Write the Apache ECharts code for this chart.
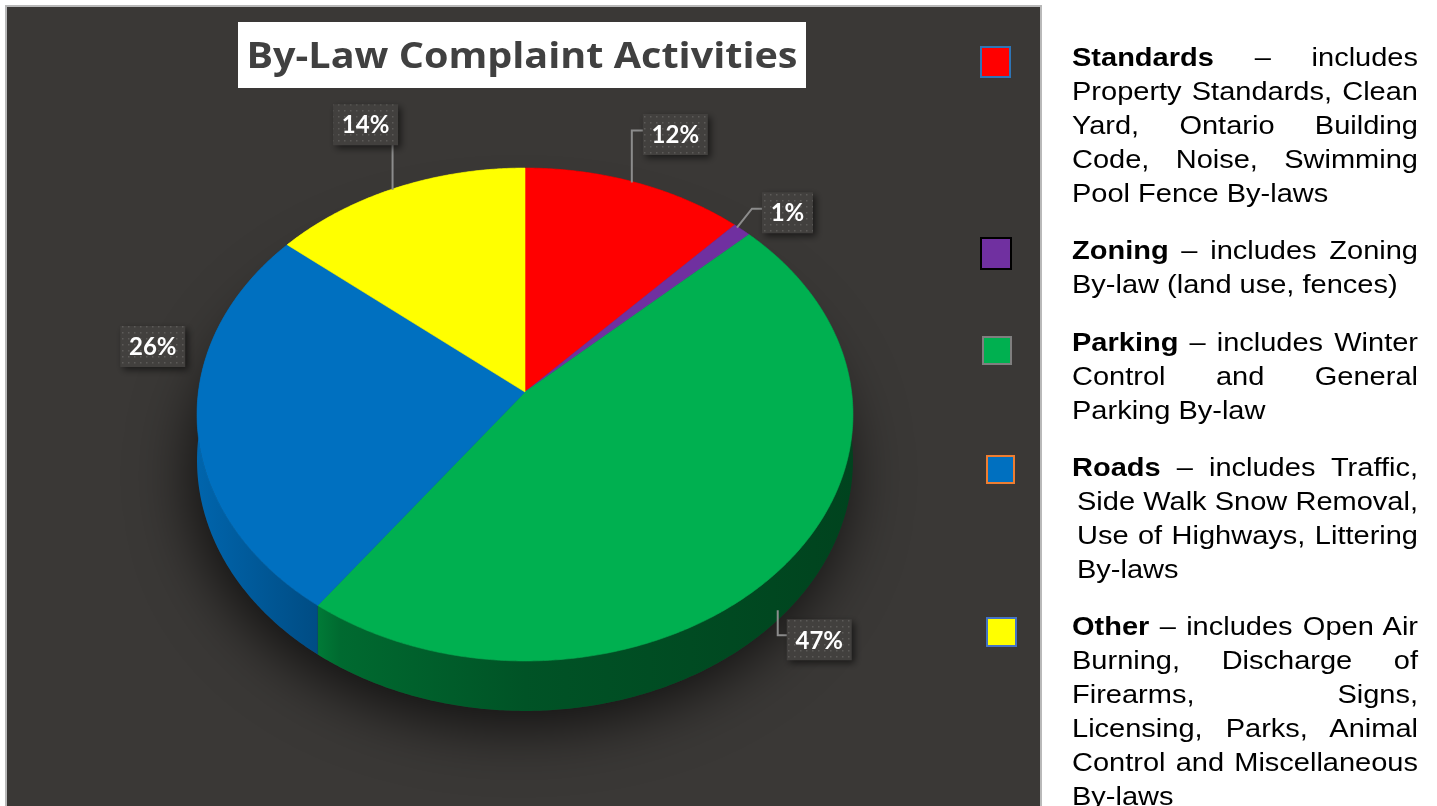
<!DOCTYPE html>
<html>
<head>
<meta charset="utf-8">
<title>By-Law Complaint Activities</title>
<script src="https://cdn.jsdelivr.net/npm/echarts@6/dist/echarts.min.js"></script>
<style>
  html, body { margin: 0; padding: 0; background: #fff; overflow: hidden; }
  #chart { position: absolute; left: 0; top: 0; width: 1437px; height: 806px; }
  .note {
    position: absolute;
    left: 1072px;
    font-family: "Liberation Sans", Arial, sans-serif;
    font-size: 25px;
    line-height: 34px;
    color: #000;
    transform-origin: 0 0;
  }
  .note div { white-space: nowrap; }
  .note .fill { text-align: justify; text-align-last: justify; }
  .note b { font-weight: bold; }
</style>
</head>
<body>
<div id="chart"></div>
<div id="notes"></div>
<script>
const titleText = "By-Law Complaint Activities";
const categories = ["Standards", "Zoning", "Parking", "Roads", "Other"];
const shares = [12, 1, 47, 26, 14];
const sliceColors = ["#ff0000", "#7030a0", "#00b050", "#0070c0", "#ffff00"];
// description lines next to each legend marker (first line follows the bold name)
const legendLines = [
  ["– includes", "Property Standards, Clean", "Yard, Ontario Building", "Code, Noise, Swimming", "Pool Fence By-laws"],
  ["– includes Zoning", "By-law (land use, fences)"],
  ["– includes Winter", "Control and General", "Parking By-law"],
  ["– includes Traffic,", "Side Walk Snow Removal,", "Use of Highways, Littering", "By-laws"],
  ["– includes Open Air", "Burning, Discharge of", "Firearms, Signs,", "Licensing, Parks, Animal", "Control and Miscellaneous", "By-laws"]
];

// layout only (not data)
const noteTops = [40, 233, 325, 450, 609];
const noteIndent = [0, 0, 0, 5, 0];
const noteWidth = 346;
const noteStretch = 1.16;
const markerBoxes = [
  { x: 981, y: 47, w: 29, h: 30, stroke: "#2e75b6" },
  { x: 981, y: 238, w: 30, h: 31, stroke: "#000000" },
  { x: 983, y: 337, w: 28, h: 27, stroke: "#7f7f7f" },
  { x: 987, y: 456, w: 27, h: 27, stroke: "#ed7d31" },
  { x: 987, y: 618, w: 29, h: 28, stroke: "#4472c4" }
];
// label box offset from the rim anchor, plus leader points relative to anchor
const labelLayout = [
  { dx: 39.5, dy: -48, bottom: false, leader: [[-4, 0], [-4, -52], [8, -52]] },
  { dx: 45.5, dy: -17, bottom: false, leader: [[-5, -2], [10, -21], [21, -21]] },
  { dx: 33.5, dy: 27.5, bottom: true, leader: [[-8, -2], [-8, 23], [2, 23]] },
  { dx: -44.5, dy: -76.5, bottom: false, leader: null },
  { dx: -31, dy: -63, bottom: false, leader: [[-4, 2], [-4, -43]] }
];

// perspective pie geometry
const PIE = { cx: 525, cy: 392, a: 326.6, b: 244.4, k: 0.0913, h: 45.4 };

function rim(theta, down) {
  const u = Math.sin(theta), v = -Math.cos(theta);
  const w = 1 - PIE.k * v;
  return [PIE.cx + PIE.a * u / w, PIE.cy + (PIE.b * v + (down ? PIE.h : 0)) / w];
}

function shade(hex, f) {
  const n = parseInt(hex.slice(1), 16);
  const r = Math.round(((n >> 16) & 255) * f);
  const g = Math.round(((n >> 8) & 255) * f);
  const b = Math.round((n & 255) * f);
  return "rgb(" + r + "," + g + "," + b + ")";
}

const total = shares.reduce((s, v) => s + v, 0);
const starts = [];
shares.reduce((acc, v, i) => { starts[i] = acc; return acc + v; }, 0);

// dotted fill used by the data label boxes
const dots = document.createElement("canvas");
dots.width = 6; dots.height = 6;
(function () {
  const c = dots.getContext("2d");
  c.fillStyle = "#42403e";
  c.fillRect(0, 0, 6, 6);
  c.fillStyle = "#5d5b59";
  c.fillRect(2, 2, 1.5, 1.5);
})();

const labelFont = "bold 24px Lato";
const titleFont = "bold 35px 'Open Sans'";
const measureCtx = document.createElement("canvas").getContext("2d");
function textWidth(text, font) {
  measureCtx.font = font;
  return measureCtx.measureText(text).width;
}

function arc(t0, t1, down) {
  const pts = [];
  const steps = Math.max(2, Math.ceil((t1 - t0) / (Math.PI / 180) * 2));
  for (let s = 0; s <= steps; s++) pts.push(rim(t0 + (t1 - t0) * s / steps, down));
  return pts;
}

function renderSlice(params, api) {
  const i = params.dataIndex;
  const val = api.value(0);
  const t0 = starts[i] / total * Math.PI * 2;
  const t1 = t0 + val / total * Math.PI * 2;
  const color = sliceColors[i];
  const children = [];

  if (i === 0) {
    // soft drop shadow under the whole disc
    children.push({
      type: "polygon",
      z2: 0,
      shape: { points: arc(0, Math.PI * 2, true) },
      style: {
        fill: "#2c2a29",
        shadowBlur: 60,
        shadowOffsetY: 16,
        shadowOffsetX: -6,
        shadowColor: "rgba(0,0,0,0.7)"
      }
    });
  }

  const top = arc(t0, t1, false);
  const bot = arc(t0, t1, true).reverse();
  const left = PIE.cx - 330, right = PIE.cx + 330;
  children.push({
    type: "polygon",
    z2: 2,
    shape: { points: top.concat(bot) },
    style: {
      fill: new echarts.graphic.LinearGradient(left, 0, right, 0, [
        { offset: 0, color: shade(color, 0.9) },
        { offset: 0.19, color: shade(color, 0.68) },
        { offset: 0.22, color: shade(color, 0.6) },
        { offset: 0.5, color: shade(color, 0.47) },
        { offset: 1, color: shade(color, 0.38) }
      ], true),
      stroke: null
    }
  });

  children.push({
    type: "polygon",
    z2: 10,
    shape: { points: [[PIE.cx, PIE.cy]].concat(top) },
    style: { fill: color, stroke: color, lineWidth: 0.6 }
  });

  // data label
  const lay = labelLayout[i];
  const tm = (t0 + t1) / 2;
  const anchor = rim(tm, lay.bottom);
  const text = val + "%";
  const bw = Math.round(textWidth(text, labelFont)) + 17;
  const bh = 41;
  const bx = anchor[0] + lay.dx, by = anchor[1] + lay.dy;
  if (lay.leader) {
    children.push({
      type: "polyline",
      z2: 20,
      shape: { points: lay.leader.map(p => [anchor[0] + p[0], anchor[1] + p[1]]) },
      style: { stroke: "#8c8c8c", lineWidth: 2, fill: null }
    });
  }
  children.push({
    type: "rect",
    z2: 21,
    shape: { x: bx - bw / 2, y: by - bh / 2, width: bw, height: bh },
    style: {
      fill: { image: dots, repeat: "repeat" },
      shadowBlur: 7,
      shadowOffsetX: 3,
      shadowOffsetY: 3,
      shadowColor: "rgba(0,0,0,0.55)"
    }
  });
  children.push({
    type: "text",
    z2: 22,
    x: bx,
    y: by + 1,
    style: {
      text: text,
      font: labelFont,
      fill: "#ffffff",
      align: "center",
      verticalAlign: "middle"
    }
  });

  return { type: "group", children: children };
}

const chart = echarts.init(document.getElementById("chart"), null, { renderer: "canvas" });

const titleWidth = 551;
const graphics = [
  {
    type: "rect",
    z: -10,
    shape: { x: 6, y: 6, width: 1035, height: 820 },
    style: { fill: "#3a3836", stroke: "#b9b9b9", lineWidth: 2 },
    silent: true
  },
  {
    type: "rect",
    z: 5,
    shape: { x: 238, y: 22, width: 568, height: 66 },
    style: { fill: "#ffffff" },
    silent: true
  },
  {
    type: "text",
    z: 6,
    x: 522,
    y: 58,
    scaleX: titleWidth / textWidth(titleText, titleFont),
    style: {
      text: titleText,
      font: titleFont,
      fill: "#404040",
      align: "center",
      verticalAlign: "middle"
    },
    silent: true
  }
];
markerBoxes.forEach((m, i) => {
  graphics.push({
    type: "rect",
    z: 5,
    shape: { x: m.x, y: m.y, width: m.w, height: m.h },
    style: { fill: sliceColors[i], stroke: m.stroke, lineWidth: 2 },
    silent: true
  });
});

chart.setOption({
  animation: false,
  graphic: graphics,
  series: [
    {
      type: "custom",
      name: titleText,
      coordinateSystem: "none",
      silent: true,
      renderItem: renderSlice,
      data: shares.map((v, i) => ({ name: categories[i], value: [v] }))
    }
  ]
});

// right-hand legend descriptions, one justified block per line
const notes = document.getElementById("notes");
categories.forEach((name, i) => {
  const p = document.createElement("div");
  p.className = "note";
  p.style.top = noteTops[i] + "px";
  p.style.width = (noteWidth / noteStretch) + "px";
  p.style.transform = "scaleX(" + noteStretch + ")";
  const lines = legendLines[i];
  lines.forEach((line, j) => {
    const d = document.createElement("div");
    if (j < lines.length - 1) d.className = "fill";
    if (j > 0 && noteIndent[i]) d.style.paddingLeft = (noteIndent[i] / noteStretch) + "px";
    if (j === 0) {
      const b = document.createElement("b");
      b.textContent = name;
      d.appendChild(b);
      d.appendChild(document.createTextNode(" " + line));
    } else {
      d.textContent = line;
    }
    p.appendChild(d);
  });
  notes.appendChild(p);
});

window.addEventListener("resize", () => chart.resize());
</script>
</body>
</html>
